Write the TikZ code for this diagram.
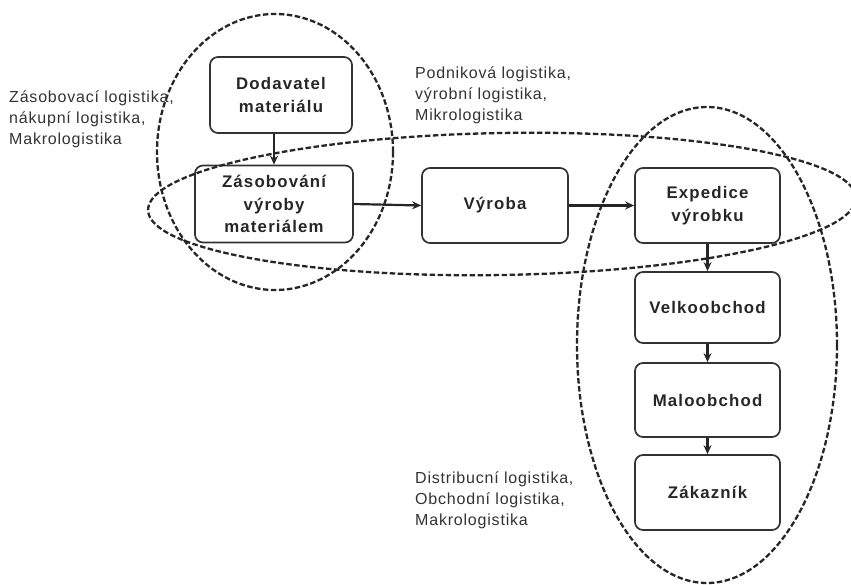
\documentclass[tikz,border=0pt]{standalone}
\usepackage{fontspec}
\setmainfont{Liberation Sans}
\usetikzlibrary{arrows.meta}
\begin{document}
\begin{tikzpicture}[x=1pt,y=-1pt,
  stagebox/.style={draw=black!80, line width=1.7pt, rounded corners=8pt,
    align=center, inner sep=0pt, text=black!85,
    font=\fontsize{16.8}{22.5}\selectfont\bfseries\addfontfeature{LetterSpace=7}},
  flow/.style={line width=2.2pt, draw=black!85, -{Stealth[length=9pt,width=8pt]}},
  zone/.style={draw=black!85, line width=2.3pt, dash pattern=on 5.5pt off 2.5pt},
  zonelabel/.style={anchor=north west, align=left, inner sep=0pt, text=black!80,
    font=\fontsize{16}{21}\selectfont\addfontfeature{LetterSpace=5}}]
  \useasboundingbox (0,0) rectangle (851,585);

  % process stages
  \node[stagebox, minimum width=142pt, minimum height=76pt] (dod) at (281,95) {Dodavatel\\materiálu};
  \node[stagebox, minimum width=158pt, minimum height=77pt] (zas) at (274,204) {Zásobování\\výroby\\materiálem};
  \node[stagebox, minimum width=146pt, minimum height=75pt] (vyr) at (495,205.5) {Výroba};
  \node[stagebox, minimum width=145pt, minimum height=75pt] (exp) at (707.5,205.5) {Expedice\\výrobku};
  \node[stagebox, minimum width=145pt, minimum height=71pt] (vel) at (707.5,307.5) {Velkoobchod};
  \node[stagebox, minimum width=145pt, minimum height=74pt] (mal) at (707.5,400) {Maloobchod};
  \node[stagebox, minimum width=145pt, minimum height=75pt] (zak) at (707.5,492.5) {Zákazník};

  % material and goods flow
  \draw[flow] (dod.south -| zas.north) -- (zas.north);
  \draw[flow] (zas.east) -- (vyr.west);
  \draw[flow] (vyr.east) -- (exp.west);
  \draw[flow] (exp.south) -- (vel.north);
  \draw[flow] (vel.south) -- (mal.north);
  \draw[flow] (mal.south) -- (zak.north);

  % logistics areas
  \draw[zone] (275,152) ellipse [x radius=118, y radius=138];
  \draw[zone, rotate around={1:(502,204)}] (502,204) ellipse [x radius=354, y radius=71];
  \draw[zone] (707,345) ellipse [x radius=130, y radius=238];

  % area captions
  \node[zonelabel] (lz) at (9,91) {Zásobovací logistika,\\nákupní logistika,\\Makrologistika};
  \node[zonelabel] (lp) at (415,67) {Podniková logistika,\\výrobní logistika,\\Mikrologistika};
  \node[zonelabel] (ld) at (415,472) {Distribucní logistika,\\Obchodní logistika,\\Makrologistika};
\end{tikzpicture}
\end{document}
